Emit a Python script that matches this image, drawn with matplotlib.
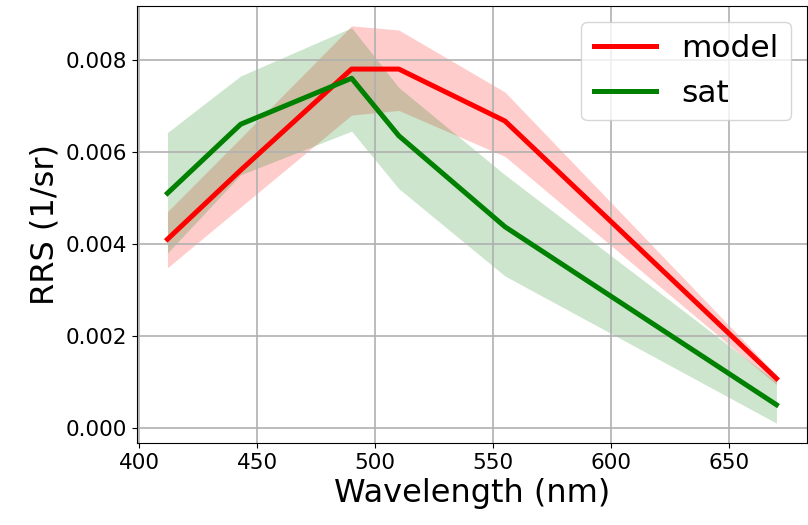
import matplotlib
matplotlib.use("Agg")
import matplotlib.pyplot as plt

wavelengths = [412, 443, 490, 510, 555, 670]
model = [0.0041, 0.0056, 0.0078, 0.0078, 0.00667, 0.00107]
model_lo = [0.00348, 0.0048, 0.0068, 0.0069, 0.0059, 0.00094]
model_hi = [0.0047, 0.0063, 0.00874, 0.00865, 0.0073, 0.00115]
sat = [0.0051, 0.0066, 0.0076, 0.00635, 0.00437, 0.0005]
sat_lo = [0.0038, 0.0055, 0.00645, 0.0052, 0.0033, 0.0001]
sat_hi = [0.00642, 0.00765, 0.0087, 0.0074, 0.0055, 0.0010]

fig = plt.figure(figsize=(8.08, 5.25), dpi=100)
ax = fig.add_axes([0.1696, 0.1562, 0.829, 0.8324])

ax.plot(wavelengths, model, color="red", lw=3.6, label="model")
ax.fill_between(wavelengths, model_lo, model_hi, color="red", alpha=0.2, lw=0)
ax.plot(wavelengths, sat, color="green", lw=3.6, label="sat")
ax.fill_between(wavelengths, sat_lo, sat_hi, color="green", alpha=0.2, lw=0)

ax.grid(True, color="#b0b0b0", lw=1.2)
ax.set_xticks([400, 450, 500, 550, 600, 650])
ax.set_yticks([0.0, 0.002, 0.004, 0.006, 0.008])
ax.tick_params(labelsize=15.5)
ax.set_xlabel("Wavelength (nm)", fontsize=23)
ax.set_ylabel("RRS (1/sr)", fontsize=23)
ax.legend(loc="upper right", fontsize=22.5)

fig.savefig("out.png", dpi=100)
